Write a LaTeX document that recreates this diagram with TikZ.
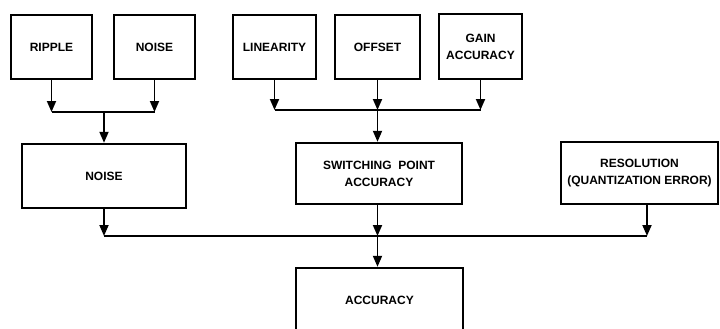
\documentclass[tikz,border=0pt]{standalone}
\usepackage{fontspec}
\setmainfont{Liberation Sans}
\usetikzlibrary{arrows.meta}
\tikzset{
  box/.style={draw, line width=2.4pt, align=center, inner sep=0pt,
    font=\bfseries\fontsize{12}{17}\selectfont},
  conn/.style={line width=1.8pt},
  arr/.style={conn, -{Triangle[width=9pt,length=11pt]}},
}
\begin{document}
\begin{tikzpicture}[x=1pt,y=-1pt]
\useasboundingbox (0,0) rectangle (720,329);
\clip (0,0) rectangle (720,329);
% top row
\node[box, minimum width=81pt, minimum height=64pt] (ripple) at (51.5,47) {RIPPLE};
\node[box, minimum width=81pt, minimum height=64pt] (noiseA) at (154.5,47) {NOISE};
\node[box, minimum width=83pt, minimum height=64pt] (lin) at (274.5,47) {LINEARITY};
\node[box, minimum width=85pt, minimum height=64pt] (off) at (377.5,47) {OFFSET};
\node[box, minimum width=83pt, minimum height=65pt] (gain) at (480.5,46.5) {GAIN\\ACCURACY};
% middle row
\node[box, minimum width=164pt, minimum height=64pt] (noiseB) at (104,176) {NOISE};
\node[box, minimum width=166pt, minimum height=61pt] (sw) at (379,173.5) {SWITCHING\ \ POINT\\ACCURACY};
\node[box, minimum width=157pt, minimum height=62pt] (res) at (639.5,173) {RESOLUTION\\(QUANTIZATION ERROR)};
% bottom
\node[box, minimum width=167pt, minimum height=64pt] (acc) at (379.5,300) {ACCURACY};
% junctions
\coordinate (j1) at (104,112);
\coordinate (j2) at (377.5,110);
\coordinate (j3) at (377.5,236);
\coordinate (rs) at ([xshift=7.5pt]res.south);
% group 1
\draw[arr] (ripple.south) -- (ripple.south |- j1);
\draw[arr] (noiseA.south) -- (noiseA.south |- j1);
\draw[conn] (ripple.south |- j1) -- (noiseA.south |- j1);
\draw[arr] (j1) -- (noiseB.north);
% group 2
\draw[arr] (lin.south) -- (lin.south |- j2);
\draw[arr] (off.south) -- (j2);
\draw[arr] (gain.south) -- (gain.south |- j2);
\draw[conn] (lin.south |- j2) -- (gain.south |- j2);
\draw[arr] (j2) -- (j2 |- sw.north);
% group 3
\draw[arr] (noiseB.south) -- (noiseB.south |- j3);
\draw[arr] (j3 |- sw.south) -- (j3);
\draw[arr] (rs) -- (rs |- j3);
\draw[conn] (noiseB.south |- j3) -- (rs |- j3);
\draw[arr] (j3) -- (j3 |- acc.north);
\end{tikzpicture}
\end{document}
